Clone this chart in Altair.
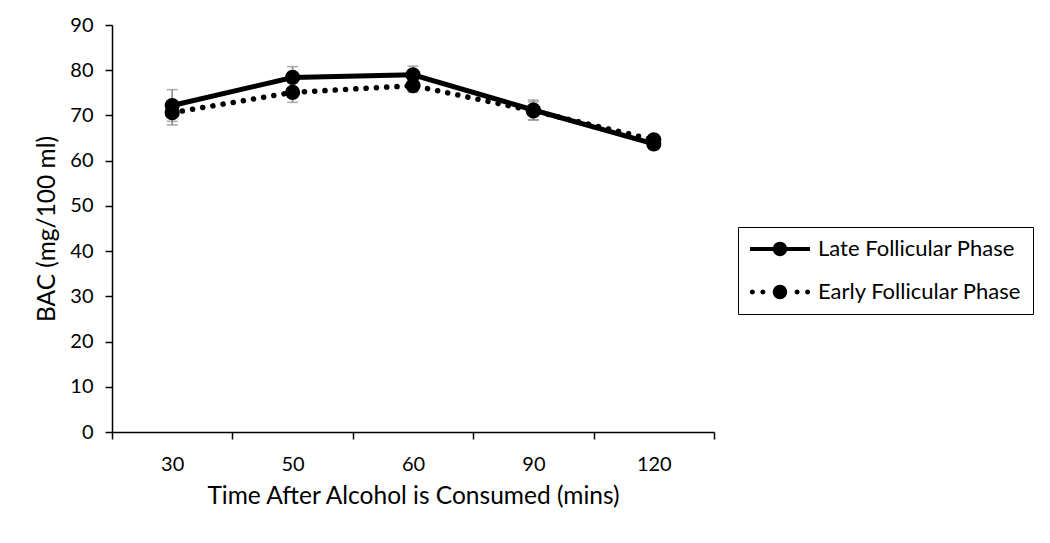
import altair as alt
import pandas as pd

times = ["30", "50", "60", "90", "120"]
late_vals = [72.2, 78.4, 79.0, 71.2, 63.7]
early_vals = [70.6, 75.1, 76.6, 71.0, 64.6]
late_err = [3.5, 2.4, 1.9, 2.2, 1.2]
early_err = [2.7, 2.2, 1.5, 2.0, 1.0]
series_names = ["Late Follicular Phase", "Early Follicular Phase"]
y_ticks = [0, 10, 20, 30, 40, 50, 60, 70, 80, 90]

rows = []
for name, vals, errs in [(series_names[0], late_vals, late_err), (series_names[1], early_vals, early_err)]:
    for t, v, e in zip(times, vals, errs):
        rows.append({"time": t, "bac": v, "lo": v - e, "hi": v + e, "series": name})
df = pd.DataFrame(rows)

FONT = "Lato"

def circ(cx, r):
    return f"M{cx - r},0 A{r},{r} 0 1,1 {cx + r},0 A{r},{r} 0 1,1 {cx - r},0 Z"

# legend symbol paths (unit = sqrt(symbolSize)/2 px = 10 px)
solid_path = "M-3,-0.21 L3,-0.21 L3,0.21 L-3,0.21 Z " + circ(0, 0.72)
dotted_path = " ".join([circ(-2.76, 0.25), circ(-1.71, 0.25), circ(1.71, 0.25), circ(2.76, 0.25), circ(0, 0.72)])

yscale = alt.Scale(domain=[0, 90], nice=False)
xenc = alt.X("time:N", sort=times,
             scale=alt.Scale(type="band", paddingInner=0, paddingOuter=0),
             axis=alt.Axis(title="Time After Alcohol is Consumed (mins)", labelAngle=0,
                           tickBand="extent"))
yenc = alt.Y("bac:Q", scale=yscale,
             axis=alt.Axis(title="BAC (mg/100 ml)", values=y_ticks))

base = alt.Chart(df)

err_rule = base.mark_rule(color="#8c8c8c", strokeWidth=1.6).encode(
    x=xenc, y=alt.Y("lo:Q", scale=yscale), y2="hi:Q")
cap_lo = base.mark_tick(color="#8c8c8c", thickness=1.6, size=11, orient="horizontal").encode(
    x=xenc, y=alt.Y("lo:Q", scale=yscale))
cap_hi = base.mark_tick(color="#8c8c8c", thickness=1.6, size=11, orient="horizontal").encode(
    x=xenc, y=alt.Y("hi:Q", scale=yscale))

late_line = alt.Chart(df[df.series == series_names[0]]).mark_line(
    color="black", strokeWidth=5).encode(x=xenc, y=yenc)
early_line = alt.Chart(df[df.series == series_names[1]]).mark_line(
    color="black", strokeWidth=5.5, strokeDash=[0.1, 10.2], strokeCap="round").encode(x=xenc, y=yenc)

pts = base.mark_point(filled=True, color="black", size=230, opacity=1, shape="circle").encode(
    x=xenc, y=yenc)

legend_layer = base.mark_point(filled=True, color="black", opacity=0, size=400).encode(
    x=xenc, y=yenc,
    shape=alt.Shape("series:N",
                    scale=alt.Scale(domain=series_names, range=[solid_path, dotted_path]),
                    legend=alt.Legend(title=None, orient="none", legendX=626, legendY=202,
                                      symbolSize=400, symbolOpacity=1, symbolFillColor="black",
                                      symbolStrokeWidth=0, symbolOffset=20,
                                      labelFontSize=22, labelFont=FONT,
                                      labelColor="black", labelOffset=27,
                                      strokeColor="black", padding=11, rowPadding=21,
                                      labelLimit=400)))

chart = alt.layer(err_rule, cap_lo, cap_hi, late_line, early_line, pts, legend_layer).properties(
    width=602, height=407,
    autosize=alt.AutoSizeParams(type="none"),
    padding={"left": 104, "top": 17, "right": 326, "bottom": 100},
).configure_view(stroke=None).configure_axis(
    domainColor="black", domainWidth=1.5, tickColor="black", tickWidth=1.5, tickSize=7,
    grid=False, labelFont=FONT, titleFont=FONT, labelColor="black", titleColor="black",
    labelFontSize=20, titleFontSize=24.5, titleFontWeight="normal",
).configure_axisX(labelPadding=15, titlePadding=10).configure_axisY(
    labelPadding=12, titlePadding=10)

chart.save("out.html", embed_options={"renderer": "svg", "actions": False})
